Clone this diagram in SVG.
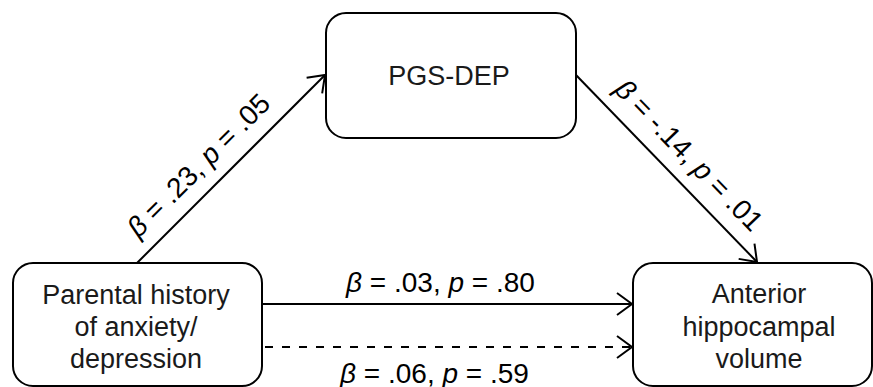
<svg xmlns="http://www.w3.org/2000/svg" width="873" height="387" viewBox="0 0 873 387">
  <style>
    .box { fill: #fff; stroke: #000; stroke-width: 2; }
    .nt { font-family: "Liberation Sans", Arial, sans-serif; font-size: 27px; fill: #1a1a1a; text-anchor: middle; }
    .lt { font-family: "Liberation Sans", Arial, sans-serif; font-size: 28px; fill: #000; text-anchor: middle; }
    .it { font-style: italic; }
    .ln { fill: none; stroke: #000; stroke-width: 2; }
    .dash { stroke-dasharray: 8 9; }
  </style>
  <defs>
    <marker id="arr" markerUnits="userSpaceOnUse" markerWidth="24" markerHeight="26" refX="18" refY="13" orient="auto" overflow="visible">
      <path d="M3,2 L18,13 L3,24" fill="none" stroke="#000" stroke-width="2"/>
    </marker>
  </defs>
  <rect width="873" height="387" fill="#fff"/>

  <g id="connectors">
    <line class="ln" x1="137" y1="263" x2="325" y2="75" marker-end="url(#arr)"/>
    <line class="ln" x1="576" y1="75" x2="757" y2="262" marker-end="url(#arr)"/>
    <line class="ln" x1="263" y1="304" x2="632" y2="304" marker-end="url(#arr)"/>
    <line class="ln dash" x1="265" y1="347" x2="632" y2="347" marker-end="url(#arr)"/>
    <text class="lt" transform="translate(205.3,172.1) rotate(-45)"><tspan class="it">β</tspan> = .23, <tspan class="it">p</tspan> = .05</text>
    <text class="lt" transform="translate(682.3,161.9) rotate(45.9)"><tspan class="it">β</tspan> = -.14, <tspan class="it">p</tspan> = .01</text>
    <text class="lt" x="440.5" y="292"><tspan class="it">β</tspan> = .03, <tspan class="it">p</tspan> = .80</text>
    <text class="lt" x="434.5" y="383"><tspan class="it">β</tspan> = .06, <tspan class="it">p</tspan> = .59</text>
  </g>

  <g id="node-parental">
    <rect class="box" x="13" y="263" width="249" height="123" rx="20" ry="20"/>
    <text class="nt" x="136" y="304">Parental history</text>
    <text class="nt" x="136" y="336">of anxiety/</text>
    <text class="nt" x="136" y="368">depression</text>
  </g>

  <g id="node-pgs">
    <rect class="box" x="326" y="13" width="250" height="125" rx="20" ry="20"/>
    <text class="nt" x="449" y="85">PGS-DEP</text>
  </g>

  <g id="node-hippocampal">
    <rect class="box" x="633" y="263" width="239" height="123" rx="20" ry="20"/>
    <text class="nt" x="759" y="303">Anterior</text>
    <text class="nt" x="759" y="336">hippocampal</text>
    <text class="nt" x="759" y="368">volume</text>
  </g>
</svg>
